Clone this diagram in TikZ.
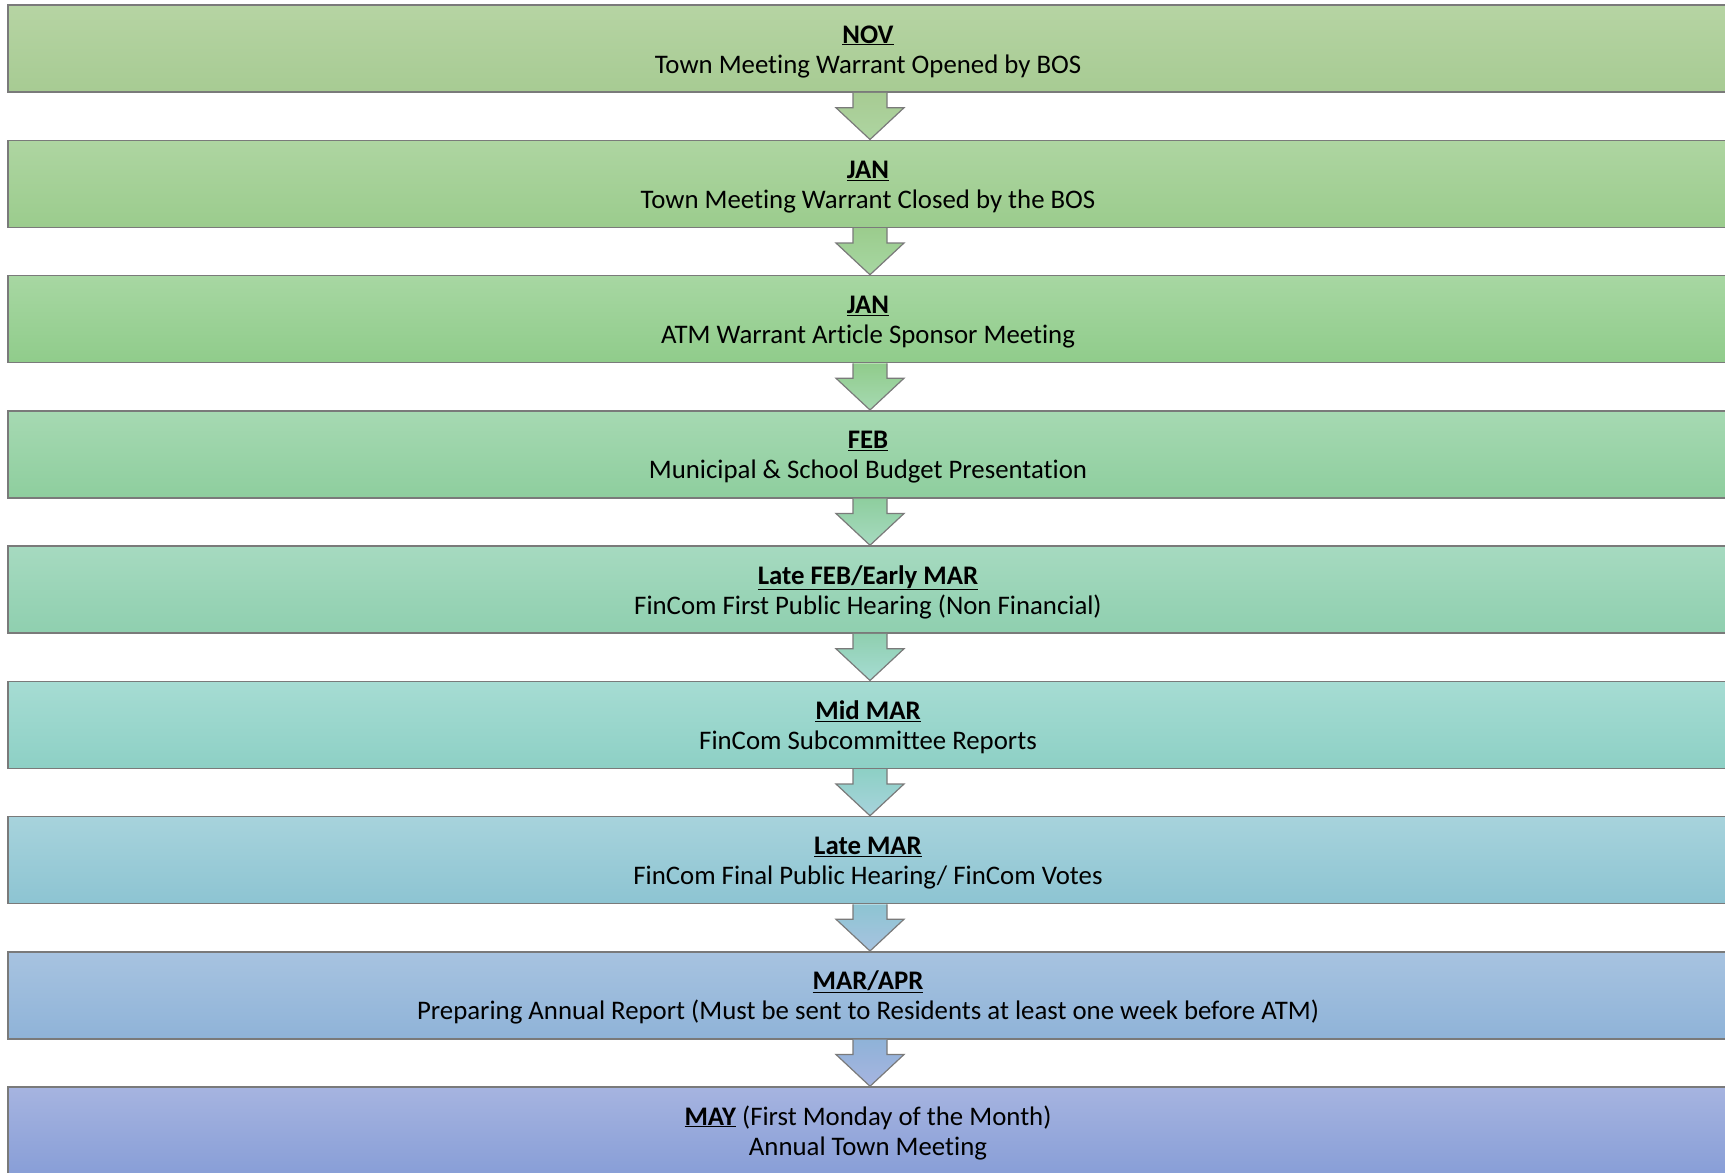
\documentclass[tikz,border=0pt]{standalone}
\usepackage{fontspec}
\setmainfont[Ligatures=NoCommon]{Carlito}
\usepackage{tikz}
\usetikzlibrary{calc}

% colours of the stages (top / bottom of each band)
\definecolor{boxline}{HTML}{7A7A7A}
\definecolor{c1t}{HTML}{B6D4A3}\definecolor{c1b}{HTML}{A7CB93}
\definecolor{c2t}{HTML}{AED5A1}\definecolor{c2b}{HTML}{9BCC8D}
\definecolor{c3t}{HTML}{A7D7A2}\definecolor{c3b}{HTML}{90CC8B}
\definecolor{c4t}{HTML}{A6D9B2}\definecolor{c4b}{HTML}{8ECE9E}
\definecolor{c5t}{HTML}{A6DAC0}\definecolor{c5b}{HTML}{8FCFAF}
\definecolor{c6t}{HTML}{A6DCD3}\definecolor{c6b}{HTML}{8DD0C5}
\definecolor{c7t}{HTML}{A7D3DC}\definecolor{c7b}{HTML}{8DC4D2}
\definecolor{c8t}{HTML}{A7C3E0}\definecolor{c8b}{HTML}{8FB3D8}
\definecolor{c9t}{HTML}{A6B4E0}\definecolor{c9b}{HTML}{889ED7}

\newcommand{\when}[1]{\rule{0pt}{25pt}\underline{\textbf{#1}}}
\newcommand{\what}[1]{#1\rule[-6pt]{0pt}{6pt}}

\begin{document}
\begin{tikzpicture}[x=1pt, y=1pt,
  stage/.style={draw=boxline, line width=1.5, minimum width=1720, minimum height=87,
    inner sep=0, align=center, font=\fontsize{26.8}{30}\selectfont},
  flow/.style={draw=boxline, line width=1.2}]
 \clip (0,0) rectangle (1725,-1173);

 % Stages
 \node[stage, top color=c1t, bottom color=c1b] (nov) at (868,-48.5)
   {\when{NOV}\\ \what{Town Meeting Warrant Opened by BOS}};
 \node[stage, top color=c2t, bottom color=c2b] (janclose) at (868,-183.75)
   {\when{JAN}\\ \what{Town Meeting Warrant Closed by the BOS}};
 \node[stage, top color=c3t, bottom color=c3b] (jansponsor) at (868,-319)
   {\when{JAN}\\ \what{ATM Warrant Article Sponsor Meeting}};
 \node[stage, top color=c4t, bottom color=c4b] (feb) at (868,-454.25)
   {\when{FEB}\\ \what{Municipal \& School Budget Presentation}};
 \node[stage, top color=c5t, bottom color=c5b] (latefeb) at (868,-589.5)
   {\when{Late FEB/Early MAR}\\ \what{FinCom First Public Hearing (Non Financial)}};
 \node[stage, top color=c6t, bottom color=c6b] (midmar) at (868,-724.75)
   {\when{Mid MAR}\\ \what{FinCom Subcommittee Reports}};
 \node[stage, top color=c7t, bottom color=c7b] (latemar) at (868,-860)
   {\when{Late MAR}\\ \what{FinCom Final Public Hearing/ FinCom Votes}};
 \node[stage, top color=c8t, bottom color=c8b] (marapr) at (868,-995.25)
   {\when{MAR/APR}\\ \what{Preparing Annual Report (Must be sent to Residents at least one week before ATM)}};
 \node[stage, top color=c9t, bottom color=c9b] (may) at (868,-1130.5)
   {\when{MAY} (First Monday of the Month)\\ \what{Annual Town Meeting}};

 % Block arrows between the stages
 \foreach \a/\b/\ct/\cb in {nov/janclose/c1b/c2t, janclose/jansponsor/c2b/c3t,
     jansponsor/feb/c3b/c4t, feb/latefeb/c4b/c5t, latefeb/midmar/c5b/c6t,
     midmar/latemar/c6b/c7t, latemar/marapr/c7b/c8t, marapr/may/c8b/c9t} {
   \path ([xshift=2]\a.south) coordinate (s) ([xshift=2]\b.north) coordinate (e);
   \shade[flow, top color=\ct, bottom color=\cb]
     ($(s)+(-17,0)$) -- ($(s)+(-17,-15)$) -- ($(s)+(-34,-15)$) -- (e)
     -- ($(s)+(34,-15)$) -- ($(s)+(17,-15)$) -- ($(s)+(17,0)$);
 }
\end{tikzpicture}
\end{document}
